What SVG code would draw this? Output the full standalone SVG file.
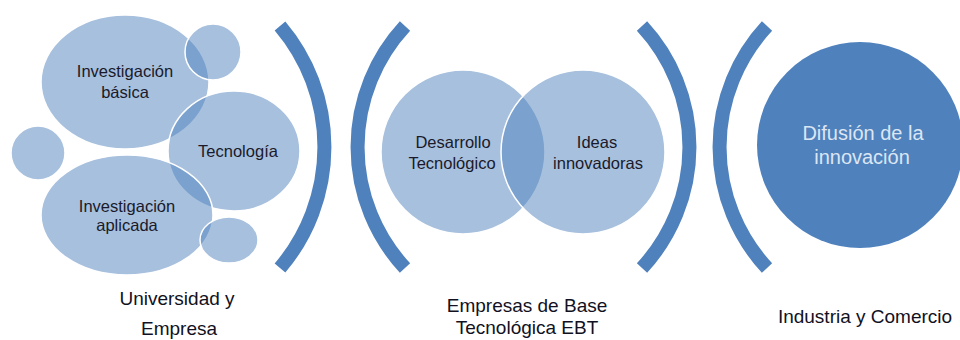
<svg xmlns="http://www.w3.org/2000/svg" width="960" height="340" viewBox="0 0 960 340">
<style>
.soft{fill:#4F81BD;fill-opacity:0.5;stroke:#ffffff;stroke-width:1.5}
.bracket{fill:none;stroke:#4F81BD;stroke-width:14;stroke-linecap:butt}
.t{font-family:"Liberation Sans",Arial,sans-serif;font-size:16.5px;fill:#1a1a2a;text-anchor:middle}
.b{font-family:"Liberation Sans",Arial,sans-serif;font-size:19px;fill:#111122;text-anchor:middle}
.w{font-family:"Liberation Sans",Arial,sans-serif;font-size:20px;fill:#dce6f2;text-anchor:middle}
</style>
<rect width="960" height="340" fill="#ffffff"/>
<g id="group1">
  <g id="inv-basica"><ellipse class="soft" cx="125" cy="82" rx="84" ry="67"/><text class="t" x="125" y="77">Investigación</text><text class="t" x="125" y="98">básica</text></g>
  <g id="small-top"><circle class="soft" cx="213" cy="52" r="28"/></g>
  <g id="tecnologia"><ellipse class="soft" cx="234" cy="151" rx="66" ry="60"/><text class="t" x="238" y="157">Tecnología</text></g>
  <g id="small-left"><circle class="soft" cx="38" cy="153" r="27"/></g>
  <g id="inv-aplicada"><ellipse class="soft" cx="127" cy="215" rx="86" ry="60"/><text class="t" x="127" y="212">Investigación</text><text class="t" x="127" y="231">aplicada</text></g>
  <g id="small-bottom"><ellipse class="soft" cx="229" cy="240" rx="29" ry="23"/></g>
</g>
<g id="group2">
  <g id="desarrollo"><circle class="soft" cx="463" cy="152" r="82"/><text class="t" x="453" y="148">Desarrollo</text><text class="t" x="452" y="169">Tecnológico</text></g>
  <g id="ideas"><circle class="soft" cx="583" cy="152" r="82"/><text class="t" x="597" y="148">Ideas</text><text class="t" x="598" y="169">innovadoras</text></g>
</g>
<g id="group3">
  <g id="difusion"><circle cx="860" cy="145" r="103" fill="#4F81BD"/><text class="w" x="863" y="140">Difusión de la</text><text class="w" x="862" y="164">innovación</text></g>
</g>
<g id="connectors">
  <path class="bracket" d="M 280 26 A 187 187 0 0 1 280 268"/>
  <path class="bracket" d="M 405 26 A 178 178 0 0 0 405 268"/>
  <path class="bracket" d="M 642 26 A 178 178 0 0 1 642 268"/>
  <path class="bracket" d="M 767 26 A 178 178 0 0 0 767 268"/>
</g>
<g id="labels">
  <text class="b" x="177" y="305">Universidad y</text>
  <text class="b" x="179" y="335">Empresa</text>
  <text class="b" x="527" y="312">Empresas de Base</text>
  <text class="b" x="527" y="334">Tecnológica EBT</text>
  <text class="b" x="865" y="323">Industria y Comercio</text>
</g>
</svg>
